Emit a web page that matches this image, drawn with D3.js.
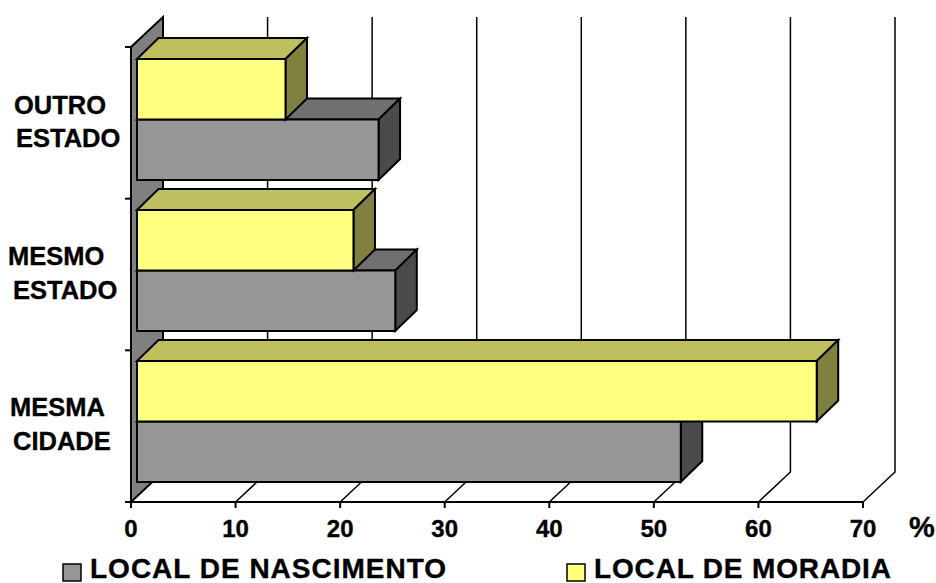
<!DOCTYPE html>
<html><head><meta charset="utf-8">
<script src="https://cdn.jsdelivr.net/npm/d3@7"></script>
<style>html,body{margin:0;padding:0;background:#fff;overflow:hidden}svg{display:block}text{font-family:"Liberation Sans",Arial,sans-serif;font-weight:bold;fill:#000;stroke:#000;stroke-width:.35px}</style>
</head><body><svg id="c" width="936" height="583"></svg>
<script>
const categories = ["MESMA CIDADE", "MESMO ESTADO", "OUTRO ESTADO"];
const categoryLines = [["MESMA","CIDADE"],["MESMO","ESTADO"],["OUTRO","ESTADO"]];
const nascimento = [52, 24.7, 23.1];
const moradia = [65, 20.7, 14.2];
const ticks = [0,10,20,30,40,50,60,70];
const seriesNames = ["LOCAL DE NASCIMENTO","LOCAL DE MORADIA"];

const svg = d3.select("#c");
const x = d3.scaleLinear().domain([0,70]).range([131,863]);
const y = d3.scaleBand().domain(categories).range([502,47]);
const yBars = d3.scaleBand().domain(categories).range([502,49]);
const wallD = {dx:32, dy:-30};
const barOff = {dx:6, dy:-20};
const depth = {dx:21.5, dy:-21};
const barH = 60.5;

// grid on floor and back wall
const grid = svg.append("g").attr("fill","none").attr("stroke","#000").attr("stroke-width",1.5);
ticks.forEach(t=>{
  if(t===0) return;
  grid.append("path").attr("d",d3.line()([[x(t),502],[x(t)+wallD.dx,502+wallD.dy],[x(t)+wallD.dx,47+wallD.dy]]));
});
// wall
svg.append("path").attr("d",d3.line()([[x(0),47],[x(0)+wallD.dx,47+wallD.dy],[x(0)+wallD.dx,502+wallD.dy],[x(0),502]])+"Z")
  .attr("fill","#808080").attr("stroke","#000").attr("stroke-width",2);
// axes
const ax = svg.append("g").attr("stroke","#000").attr("stroke-width",2);
ax.append("line").attr("x1",x(0)).attr("x2",x(0)).attr("y1",47).attr("y2",502);
ax.append("line").attr("x1",x(0)-6).attr("x2",x(70)).attr("y1",502).attr("y2",502);
ticks.forEach(t=>ax.append("line").attr("x1",x(t)).attr("x2",x(t)).attr("y1",502).attr("y2",508));
categories.forEach(c=>ax.append("line").attr("x1",x(0)-6).attr("x2",x(0)).attr("y1",y(c)).attr("y2",y(c)));

const styles = [
 {front:"#969696",top:"#707070",side:"#4b4b4b",vals:nascimento,slot:0},
 {front:"#ffff80",top:"#bfbf60",side:"#808040",vals:moradia,slot:1}
];
function bar(g,v,yBottom,h,s){
  const x0 = x(0)+barOff.dx, x1 = x(v)+barOff.dx, yb=yBottom, yt=yb-h;
  const line=d3.line();
  g.append("path").attr("d",line([[x0,yt],[x0+depth.dx,yt+depth.dy],[x1+depth.dx,yt+depth.dy],[x1,yt]])+"Z").attr("fill",s.top);
  g.append("path").attr("d",line([[x1,yt],[x1+depth.dx,yt+depth.dy],[x1+depth.dx,yb+depth.dy],[x1,yb]])+"Z").attr("fill",s.side);
  g.append("rect").attr("x",x0).attr("y",yt).attr("width",x1-x0).attr("height",h).attr("fill",s.front);
}
const bars = svg.append("g").attr("stroke","#000").attr("stroke-width",2).attr("stroke-linejoin","miter");
[2,1,0].forEach(i=>{
  const c=categories[i];
  const yb=yBars(c)+yBars.bandwidth()+barOff.dy;
  styles.forEach(s=>bar(bars,s.vals[i],yb-s.slot*barH,barH,s));
});

// tick labels
svg.append("g").selectAll("text").data(ticks).join("text")
  .attr("x",d=>x(d)).attr("y",537).attr("text-anchor","middle").attr("font-size",24).text(d=>d);
svg.append("text").attr("x",909).attr("y",537).attr("font-size",29).text("%");

// category labels
const labelPos=[[[10,416],[13,450]],[[8,265],[13,299]],[[14,114],[16,147]]];
categoryLines.forEach((ls,i)=>ls.forEach((l,j)=>{
  svg.append("text").attr("x",labelPos[i][j][0]).attr("y",labelPos[i][j][1]).attr("font-size",25.5).text(l);
}));

// legend
const lx=[[63,90],[567,594]];
seriesNames.forEach((n,i)=>{
  svg.append("rect").attr("x",lx[i][0]).attr("y",564).attr("width",18).attr("height",17)
    .attr("fill",styles[i].front).attr("stroke","#000").attr("stroke-width",1.5);
  svg.append("text").attr("x",lx[i][1]).attr("y",578).attr("font-size",28).attr("letter-spacing",i?0.85:1).text(n);
});
</script></body></html>
